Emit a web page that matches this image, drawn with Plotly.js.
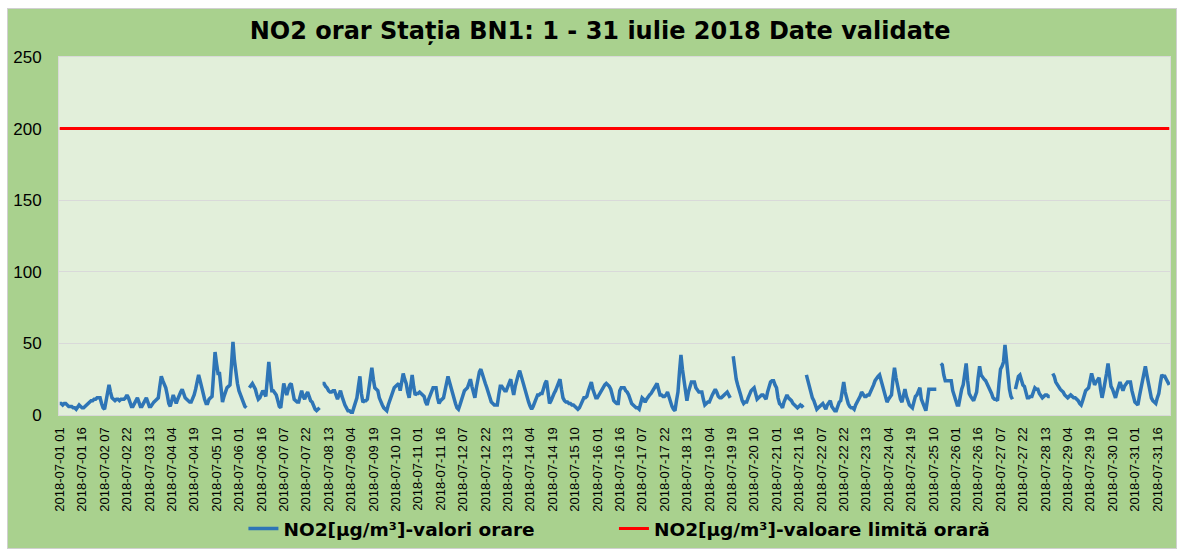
<!DOCTYPE html>
<html>
<head>
<meta charset="utf-8">
<script src="https://cdn.plot.ly/plotly-3.0.1.min.js"></script>
<style>
  html, body { margin: 0; padding: 0; background: #ffffff; }
  #chart { position: absolute; left: 7px; top: 8px; width: 1168px; height: 539px; border: 1px solid #d0d0d0; }
</style>
</head>
<body>
<div id="chart"></div>
<script>
// ---- data (hourly NO2, µg/m³), one row per day ----
const day01 = [8,8,7,8,8,7,6,6,6,5,5,4,6,7,6,5,5,6,7,8,9,10,10,11];
const day02 = [11,12,12,12,8,5,4,10,17,21,16,12,11,10,11,11,10,11,11,11,12,14,12,8];
const day03 = [6,6,8,11,12,9,6,6,8,11,12,9,6,6,8,9,10,11,12,20,27,24,21,19];
const day04 = [14,8,6,10,14,11,8,11,14,16,18,15,12,11,10,9,9,11,14,18,24,28,24,19];
const day05 = [15,11,8,8,11,12,13,28,44,36,29,29,20,9,13,17,19,20,21,35,51,38,27,22];
const day06 = [17,14,11,9,6,5,null,19,21,22,20,18,14,11,12,15,17,15,13,25,37,26,17,17];
const day07 = [15,14,10,6,5,14,22,18,14,18,21,22,15,11,10,9,9,13,17,13,11,14,16,13];
const day08 = [10,9,6,4,3,4,5,null,22,22,20,19,17,16,16,17,17,13,11,14,17,13,9,7];
const day09 = [5,3,3,2,2,5,9,12,20,27,15,9,10,10,11,20,28,33,25,19,18,17,12,9];
const day10 = [7,5,4,3,7,10,13,16,19,20,21,22,17,24,29,25,22,16,12,20,28,20,14,15];
const day11 = [15,16,15,14,13,9,7,11,14,17,19,19,19,12,8,10,11,12,17,22,27,23,19,14];
const day12 = [10,8,5,4,7,11,15,17,18,19,22,25,20,15,12,19,25,30,32,28,24,22,19,15];
const day13 = [11,9,8,7,7,7,14,20,20,18,17,17,20,23,25,19,14,20,25,28,31,27,23,20];
const day14 = [17,13,9,6,4,6,9,12,14,14,15,15,19,22,24,15,8,10,13,15,17,20,23,25];
const day15 = [18,12,10,9,9,8,8,7,7,6,5,4,5,7,9,12,12,13,17,21,23,18,14,12];
const day16 = [12,14,15,17,19,21,22,21,20,18,13,10,9,8,8,17,19,19,19,17,16,14,11,8];
const day17 = [7,6,5,5,4,8,12,11,9,11,13,14,15,17,19,20,22,18,14,14,13,13,14,16];
const day18 = [12,8,6,4,3,10,16,30,42,32,23,15,10,16,21,23,23,23,19,17,16,16,16,11];
const day19 = [7,8,9,9,12,14,16,18,16,13,12,12,13,14,15,16,14,12,null,41,30,25,21,18];
const day20 = [14,10,8,9,9,12,15,17,18,19,15,11,12,13,14,14,12,11,16,20,23,24,24,21];
const day21 = [19,12,8,7,5,9,12,14,12,11,10,8,7,6,5,6,7,6,7,null,28,24,18,15];
const day22 = [12,10,6,4,5,6,7,8,6,4,7,9,10,6,4,3,3,6,9,10,18,23,16,11];
const day23 = [8,6,5,5,4,7,9,10,13,16,14,13,13,14,14,16,18,21,24,26,27,28,24,21];
const day24 = [18,13,9,11,13,14,25,33,26,21,15,11,9,14,18,13,9,7,6,5,9,13,14,17];
const day25 = [19,11,8,5,3,10,18,18,18,18,18,18,null,null,36,35,28,24,24,24,24,24,17,13];
const day26 = [9,7,7,13,18,21,29,36,24,15,13,11,10,13,16,26,34,28,26,25,24,22,20,18];
const day27 = [15,12,11,11,10,22,32,34,37,49,38,26,18,13,11,null,18,22,27,28,24,21,20,15];
const day28 = [12,12,13,13,16,19,18,18,15,13,12,13,14,14,13,13,null,29,27,23,21,19,18,17];
const day29 = [16,14,13,12,13,14,13,12,12,11,10,8,7,10,13,17,18,19,24,29,25,21,23,25];
const day30 = [26,18,12,17,22,29,36,28,20,18,14,12,16,20,23,20,17,20,22,23,23,23,17,12];
const day31 = [9,8,7,13,18,26,31,34,28,23,17,12,10,9,8,12,15,22,28,27,27,25,23,21];

const limitValue = 200;           // valoare limită orară
const seriesName = 'NO2[µg/m³]-valori orare';
const limitName = 'NO2[µg/m³]-valoare limită orară';
const titleText = 'NO2 orar Stația BN1: 1 - 31 iulie 2018 Date validate';

const days = [day01,day02,day03,day04,day05,day06,day07,day08,day09,day10,day11,day12,day13,day14,day15,day16,
              day17,day18,day19,day20,day21,day22,day23,day24,day25,day26,day27,day28,day29,day30,day31];

// category labels "2018-07-DD HH", hours 01..24
const pad = n => (n < 10 ? '0' : '') + n;
const categories = [];
days.forEach((row, d) => row.forEach((_, h) => categories.push('2018-07-' + pad(d + 1) + ' ' + pad(h + 1))));
const no2Values = [].concat(...days);
const limitValues = categories.map(() => limitValue);
const tickLabels = categories.filter((_, i) => i % 15 === 0);

const FONT = '"Liberation Sans", Arial, sans-serif';
const WIDE = '"DejaVu Sans", "Liberation Sans", Arial, sans-serif';
const legendFont = { family: WIDE, size: 18.5, weight: 700, color: '#000000' };

const traces = [
  { x: categories, y: no2Values, type: 'scatter', mode: 'lines', name: seriesName,
    line: { color: '#2e75b6', width: 3.5 }, connectgaps: false, hoverinfo: 'x+y', legend: 'legend' },
  { x: categories, y: limitValues, type: 'scatter', mode: 'lines', name: limitName,
    line: { color: '#ff0000', width: 3 }, hoverinfo: 'x+y', legend: 'legend2' }
];

const layout = {
  width: 1168, height: 539,
  paper_bgcolor: '#a9d18e',
  plot_bgcolor: '#e2efda',
  margin: { l: 51, r: 6, t: 48, b: 133, autoexpand: false },
  font: { family: FONT, color: '#000000' },
  title: { text: titleText, x: 0.507, xanchor: 'center', y: 0.96, yanchor: 'middle',
           font: { family: WIDE, size: 24, weight: 700, color: '#000000' } },
  showlegend: true,
  legend: { orientation: 'h', x: 0.166, xanchor: 'left', yref: 'container', y: 0.0, yanchor: 'bottom',
            font: legendFont, bgcolor: 'rgba(0,0,0,0)' },
  legend2: { orientation: 'h', x: 0.4995, xanchor: 'left', yref: 'container', y: 0.0, yanchor: 'bottom',
            font: legendFont, bgcolor: 'rgba(0,0,0,0)' },
  xaxis: { type: 'category', tickmode: 'array', tickvals: tickLabels, ticktext: tickLabels,
           tickangle: -90, tickfont: { family: FONT, size: 13, color: '#000000' },
           ticks: '', ticklabelstandoff: 6, showgrid: false, zeroline: false, showline: true, linecolor: '#d9d9d9',
           mirror: true, automargin: false, range: [-0.5, categories.length - 0.5] },
  yaxis: { range: [0, 250], dtick: 50, tick0: 0, showgrid: true, gridcolor: '#d9d9d9', gridwidth: 1,
           tickfont: { family: FONT, size: 17, color: '#000000' }, ticks: '', ticklabelstandoff: 13,
           zeroline: false, showline: true, linecolor: '#d9d9d9', mirror: true, automargin: false }
};

Plotly.newPlot('chart', traces, layout, { displayModeBar: false, staticPlot: true });
</script>
</body>
</html>
